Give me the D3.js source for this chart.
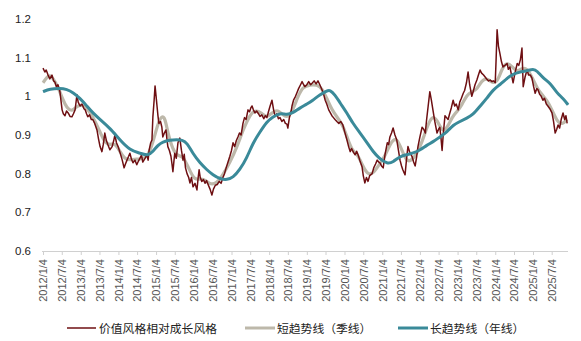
<!DOCTYPE html>
<html><head><meta charset="utf-8">
<script src="https://cdn.jsdelivr.net/npm/d3@7/dist/d3.min.js"></script>
<style>
html,body{margin:0;padding:0;background:#fff;}
svg{display:block;font-family:"Liberation Sans",Arial,sans-serif;}
</style></head>
<body><svg id="c" width="581" height="341"></svg>
<script>
// ---- DATA ----
const tickLabels = ["2012/1/4","2012/7/4","2013/1/4","2013/7/4","2014/1/4","2014/7/4","2015/1/4","2015/7/4","2016/1/4","2016/7/4","2017/1/4","2017/7/4","2018/1/4","2018/7/4","2019/1/4","2019/7/4","2020/1/4","2020/7/4","2021/1/4","2021/7/4","2022/1/4","2022/7/4","2023/1/4","2023/7/4","2024/1/4","2024/7/4","2025/1/4","2025/7/4"];
const yTicks = [0.6,0.7,0.8,0.9,1,1.1,1.2];
const seriesNames = ["价值风格相对成长风格","短趋势线（季线）","长趋势线（年线）"];

const ratioDates = ["2012-01-04","2012-01-22","2012-02-04","2012-02-22","2012-03-10","2012-03-31","2012-04-16","2012-04-28","2012-05-13","2012-05-28","2012-06-16","2012-06-28","2012-07-07","2012-07-19","2012-08-04","2012-08-19","2012-09-04","2012-09-22","2012-10-10","2012-10-25","2012-11-10","2012-11-28","2012-12-10","2012-12-28","2013-01-16","2013-02-04","2013-02-16","2013-03-01","2013-03-13","2013-03-31","2013-04-16","2013-05-01","2013-05-19","2013-06-10","2013-06-25","2013-07-10","2013-07-28","2013-08-10","2013-08-25","2013-09-10","2013-09-25","2013-10-13","2013-11-04","2013-11-19","2013-12-01","2013-12-16","2014-01-01","2014-01-19","2014-02-10","2014-02-28","2014-03-13","2014-03-28","2014-04-13","2014-04-25","2014-05-10","2014-05-25","2014-06-13","2014-07-01","2014-07-16","2014-08-01","2014-08-16","2014-08-28","2014-09-16","2014-10-07","2014-10-19","2014-10-28","2014-11-13","2014-11-25","2014-12-04","2014-12-16","2014-12-25","2015-01-04","2015-01-13","2015-01-22","2015-01-31","2015-02-16","2015-03-01","2015-03-10","2015-03-25","2015-04-10","2015-04-19","2015-04-28","2015-05-13","2015-05-28","2015-06-07","2015-06-16","2015-06-25","2015-07-04","2015-07-19","2015-08-04","2015-08-22","2015-09-07","2015-09-22","2015-10-04","2015-10-16","2015-10-31","2015-11-16","2015-11-28","2015-12-13","2015-12-28","2016-01-16","2016-02-04","2016-02-16","2016-02-25","2016-03-07","2016-03-22","2016-04-07","2016-04-22","2016-05-07","2016-05-22","2016-06-10","2016-06-28","2016-07-13","2016-07-31","2016-08-19","2016-09-07","2016-09-25","2016-10-13","2016-10-28","2016-11-13","2016-12-01","2016-12-19","2017-01-04","2017-01-19","2017-02-04","2017-02-19","2017-03-07","2017-03-22","2017-04-07","2017-04-25","2017-05-10","2017-05-25","2017-06-13","2017-06-28","2017-07-10","2017-07-22","2017-08-04","2017-08-19","2017-09-04","2017-09-22","2017-10-07","2017-10-25","2017-11-13","2017-11-28","2017-12-13","2017-12-28","2018-01-13","2018-01-31","2018-02-16","2018-03-01","2018-03-19","2018-04-04","2018-04-19","2018-05-07","2018-05-25","2018-06-10","2018-06-25","2018-07-04","2018-07-19","2018-08-04","2018-08-13","2018-08-28","2018-09-16","2018-10-01","2018-10-16","2018-11-04","2018-11-19","2018-12-04","2018-12-16","2019-01-04","2019-01-22","2019-02-10","2019-02-28","2019-03-16","2019-04-04","2019-04-22","2019-05-10","2019-05-31","2019-06-16","2019-07-01","2019-07-16","2019-08-04","2019-08-19","2019-09-04","2019-09-19","2019-10-04","2019-10-22","2019-11-10","2019-11-28","2019-12-19","2020-01-04","2020-01-28","2020-02-13","2020-02-28","2020-03-13","2020-03-31","2020-04-16","2020-05-01","2020-05-13","2020-05-31","2020-06-22","2020-07-04","2020-07-19","2020-08-04","2020-08-19","2020-09-04","2020-09-28","2020-10-13","2020-10-31","2020-11-16","2020-12-01","2020-12-13","2020-12-28","2021-01-13","2021-01-31","2021-02-22","2021-03-07","2021-03-19","2021-04-04","2021-04-19","2021-05-07","2021-05-25","2021-06-10","2021-06-25","2021-07-10","2021-07-22","2021-08-13","2021-08-28","2021-09-10","2021-09-28","2021-10-19","2021-11-04","2021-11-19","2021-12-04","2021-12-16","2022-01-04","2022-01-25","2022-02-10","2022-02-25","2022-03-10","2022-03-25","2022-04-10","2022-04-25","2022-05-10","2022-05-28","2022-06-19","2022-07-04","2022-07-16","2022-07-28","2022-08-07","2022-08-19","2022-09-04","2022-09-19","2022-10-04","2022-10-19","2022-11-04","2022-11-22","2022-12-07","2022-12-22","2023-01-10","2023-01-25","2023-02-10","2023-02-28","2023-03-13","2023-03-31","2023-04-16","2023-05-01","2023-05-22","2023-06-07","2023-06-22","2023-07-10","2023-07-25","2023-08-10","2023-08-25","2023-09-13","2023-09-28","2023-10-13","2023-10-31","2023-11-16","2023-12-04","2023-12-19","2024-01-04","2024-01-13","2024-01-22","2024-02-04","2024-02-19","2024-03-04","2024-03-19","2024-04-07","2024-04-28","2024-05-10","2024-05-25","2024-06-10","2024-06-25","2024-07-13","2024-08-04","2024-08-19","2024-09-04","2024-09-19","2024-10-01","2024-10-19","2024-11-07","2024-11-22","2024-12-10","2024-12-25","2025-01-10","2025-01-25","2025-02-10","2025-02-22","2025-03-10","2025-03-25","2025-04-10","2025-04-25","2025-05-13","2025-05-28","2025-06-16","2025-07-07","2025-07-22","2025-08-07","2025-08-22","2025-09-04","2025-09-19","2025-10-04","2025-10-22","2025-11-07","2025-11-19","2025-12-01"];
const ratioValues = [1.073,1.063,1.068,1.055,1.045,1.055,1.040,1.037,1.025,1.030,1.012,0.985,0.965,0.955,0.950,0.962,0.957,0.948,0.947,0.955,0.965,1.004,0.985,0.975,0.980,0.968,0.965,0.955,0.947,0.952,0.940,0.940,0.930,0.913,0.890,0.870,0.857,0.875,0.905,0.885,0.874,0.862,0.870,0.885,0.900,0.880,0.870,0.855,0.835,0.815,0.825,0.835,0.845,0.853,0.838,0.828,0.835,0.823,0.832,0.840,0.848,0.830,0.838,0.849,0.835,0.860,0.880,0.887,0.947,0.990,1.027,1.000,0.975,0.950,0.930,0.935,0.920,0.895,0.905,0.913,0.890,0.870,0.860,0.845,0.825,0.805,0.830,0.853,0.840,0.880,0.892,0.860,0.835,0.850,0.815,0.800,0.790,0.776,0.790,0.766,0.775,0.758,0.790,0.810,0.790,0.780,0.785,0.775,0.782,0.772,0.760,0.745,0.760,0.770,0.772,0.780,0.775,0.790,0.800,0.815,0.830,0.845,0.860,0.880,0.870,0.885,0.895,0.905,0.900,0.930,0.945,0.940,0.965,0.960,0.970,0.975,0.965,0.957,0.962,0.955,0.948,0.952,0.942,0.950,0.945,0.960,0.975,0.990,0.965,0.950,0.955,0.942,0.945,0.935,0.940,0.930,0.928,0.918,0.945,0.960,0.975,0.990,1.000,1.010,1.020,1.030,1.038,1.030,1.025,1.030,1.038,1.030,1.035,1.040,1.032,1.040,1.030,1.017,1.005,0.990,0.980,0.965,0.958,0.950,0.945,0.940,0.935,0.930,0.935,0.926,0.910,0.887,0.870,0.857,0.865,0.855,0.849,0.858,0.850,0.835,0.818,0.795,0.776,0.790,0.780,0.795,0.800,0.815,0.825,0.835,0.830,0.828,0.820,0.815,0.850,0.880,0.875,0.895,0.905,0.918,0.900,0.887,0.860,0.835,0.820,0.810,0.797,0.840,0.870,0.855,0.845,0.830,0.820,0.845,0.870,0.895,0.920,0.915,0.905,0.940,0.975,1.012,0.990,0.965,0.935,0.905,0.915,0.920,0.890,0.860,0.905,0.950,0.945,0.940,0.955,0.970,0.990,0.975,0.980,0.965,0.985,0.995,1.008,1.015,1.035,1.063,1.030,1.000,1.015,1.030,1.042,1.055,1.068,1.060,1.055,1.050,1.045,1.040,1.042,1.038,1.040,1.035,1.100,1.172,1.130,1.110,1.090,1.076,1.080,1.085,1.070,1.076,1.055,1.035,1.060,1.085,1.080,1.095,1.125,1.025,1.050,1.068,1.055,1.055,1.047,1.025,1.008,1.020,1.017,1.005,1.000,0.990,0.995,0.980,0.975,0.968,0.957,0.935,0.905,0.915,0.926,0.918,0.940,0.957,0.940,0.950,0.930];

const shortDates = ["2012-01-04","2012-02-13","2012-03-10","2012-04-10","2012-05-28","2012-07-16","2012-08-22","2012-10-10","2012-11-28","2013-01-16","2013-03-04","2013-05-01","2013-07-10","2013-08-25","2013-10-13","2013-12-01","2014-01-19","2014-03-07","2014-04-25","2014-07-01","2014-08-28","2014-10-16","2014-12-04","2015-01-22","2015-03-01","2015-04-01","2015-04-28","2015-06-16","2015-08-04","2015-09-22","2015-11-10","2015-12-28","2016-02-04","2016-04-04","2016-06-10","2016-08-16","2016-10-13","2016-12-22","2017-02-28","2017-04-25","2017-07-01","2017-08-19","2017-10-25","2017-12-13","2018-02-10","2018-03-28","2018-05-16","2018-07-04","2018-08-22","2018-10-10","2018-11-28","2019-02-04","2019-04-13","2019-05-31","2019-07-16","2019-09-04","2019-10-22","2019-12-19","2020-02-07","2020-03-25","2020-05-13","2020-07-01","2020-08-19","2020-10-07","2020-12-04","2021-01-31","2021-04-07","2021-05-25","2021-07-13","2021-08-31","2021-10-19","2021-12-07","2022-01-25","2022-03-13","2022-05-01","2022-06-19","2022-08-07","2022-09-25","2022-11-13","2022-12-28","2023-02-16","2023-04-04","2023-05-22","2023-07-10","2023-08-28","2023-10-16","2023-12-04","2024-01-22","2024-03-10","2024-04-28","2024-06-16","2024-08-04","2024-09-19","2024-11-07","2024-12-25","2025-02-13","2025-04-01","2025-05-19","2025-07-07","2025-08-25","2025-10-13","2025-12-01"];
const shortValues = [1.035,1.050,1.055,1.047,1.025,0.990,0.970,0.960,0.975,0.978,0.970,0.947,0.908,0.880,0.874,0.880,0.857,0.838,0.835,0.838,0.838,0.845,0.880,0.930,0.950,0.944,0.905,0.861,0.845,0.845,0.818,0.790,0.784,0.789,0.771,0.776,0.797,0.830,0.870,0.913,0.952,0.965,0.957,0.944,0.960,0.965,0.952,0.944,0.965,1.000,1.025,1.030,1.030,1.021,0.995,0.965,0.947,0.926,0.887,0.857,0.849,0.818,0.797,0.800,0.823,0.845,0.887,0.892,0.861,0.830,0.835,0.853,0.882,0.920,0.950,0.940,0.908,0.918,0.947,0.960,0.978,1.004,1.012,1.017,1.042,1.047,1.035,1.035,1.073,1.089,1.076,1.063,1.073,1.073,1.050,1.021,1.004,0.990,0.965,0.935,0.926,0.940];

const longDates = ["2012-01-04","2012-03-10","2012-06-16","2012-08-22","2012-10-22","2012-12-28","2013-03-04","2013-05-01","2013-07-10","2013-10-13","2014-01-19","2014-04-25","2014-08-01","2014-10-16","2014-12-04","2015-01-22","2015-03-10","2015-05-16","2015-07-25","2015-09-13","2015-10-31","2015-12-28","2016-03-04","2016-05-10","2016-07-07","2016-09-16","2016-11-22","2017-01-19","2017-03-25","2017-05-31","2017-08-01","2017-10-07","2017-12-13","2018-02-10","2018-04-19","2018-06-25","2018-08-22","2018-10-28","2019-01-07","2019-03-04","2019-05-10","2019-07-16","2019-08-16","2019-10-04","2019-11-22","2020-01-28","2020-03-25","2020-06-04","2020-08-10","2020-10-07","2020-12-04","2021-02-22","2021-04-19","2021-06-25","2021-08-31","2021-10-28","2022-01-07","2022-03-13","2022-05-10","2022-07-16","2022-09-25","2022-11-22","2023-01-28","2023-04-04","2023-06-01","2023-08-10","2023-10-16","2023-12-13","2024-02-19","2024-04-28","2024-06-25","2024-09-01","2024-11-07","2025-01-07","2025-02-13","2025-04-10","2025-06-19","2025-08-25","2025-10-22","2025-12-10"];
const longValues = [1.012,1.019,1.021,1.018,1.010,0.995,0.975,0.957,0.940,0.918,0.887,0.861,0.853,0.846,0.857,0.874,0.882,0.887,0.888,0.887,0.880,0.851,0.828,0.810,0.797,0.786,0.784,0.790,0.810,0.840,0.880,0.908,0.935,0.947,0.957,0.952,0.957,0.970,0.980,0.990,1.004,1.014,1.017,1.004,0.983,0.957,0.930,0.905,0.880,0.857,0.840,0.825,0.830,0.845,0.849,0.853,0.861,0.874,0.882,0.895,0.908,0.926,0.935,0.944,0.952,0.975,0.995,1.017,1.030,1.047,1.058,1.063,1.066,1.071,1.066,1.047,1.035,1.008,0.995,0.978];

// ---- CHART ----
const parse = d3.timeParse("%Y-%m-%d");
const tickDates = tickLabels.map(s => { const p = s.split("/"); return new Date(+p[0], +p[1]-1, +p[2]); });
const svg = d3.select("#c");
const x0 = 43, step = 18.84;
const x = d3.scaleTime()
  .domain([tickDates[0], tickDates[tickDates.length-1]])
  .range([x0, x0 + step*(tickDates.length-1)]);
const y = d3.scaleLinear().domain([0.6, 1.2]).range([251, 19]);

const colors = ["#6e0f12", "#bdb8aa", "#3a8a99"];

// y tick labels
svg.append("g").selectAll("text").data(yTicks).join("text")
  .attr("x", 31).attr("y", d => y(d) + 4)
  .attr("text-anchor", "end").attr("font-size", 11.5).attr("fill", "#222")
  .text(d => d === 1 ? "1" : d3.format(".1f")(d));

// x axis
const xAxis = d3.axisBottom(x).tickValues(tickDates).tickSize(4).tickFormat((d,i) => tickLabels[i]);
const gx = svg.append("g").attr("transform", "translate(0,251)").call(xAxis);
gx.select(".domain").attr("stroke", "#d0d0d0").attr("d", "M42,0.5H568");
gx.selectAll(".tick line").attr("stroke", "#d0d0d0");
gx.selectAll(".tick text")
  .attr("font-family", "'Liberation Sans',Arial,sans-serif")
  .attr("font-size", 11).attr("fill", "#555")
  .attr("text-anchor", "end")
  .attr("transform", "rotate(-90)")
  .attr("x", -8).attr("y", 0).attr("dy", "0.35em");

function series(dates, vals){ return dates.map((d,i) => ({d: parse(d), v: vals[i]})); }
const lineLin = d3.line().x(p => x(p.d)).y(p => y(p.v));
const lineSm = d3.line().x(p => x(p.d)).y(p => y(p.v)).curve(d3.curveBasis);

svg.append("path").datum(series(shortDates, shortValues)).attr("d", lineSm)
  .attr("fill", "none").attr("stroke", colors[1]).attr("stroke-width", 3.2).attr("stroke-linejoin","round");
svg.append("path").datum(series(ratioDates, ratioValues)).attr("d", lineLin)
  .attr("fill", "none").attr("stroke", colors[0]).attr("stroke-width", 1.5).attr("stroke-linejoin","round");
svg.append("path").datum(series(longDates, longValues)).attr("d", lineSm)
  .attr("fill", "none").attr("stroke", colors[2]).attr("stroke-width", 3).attr("stroke-linejoin","round");

// legend
const leg = [
  {x1: 67, x2: 96, tx: 99, w: 1.5},
  {x1: 245, x2: 275, tx: 277, w: 3},
  {x1: 398, x2: 428, tx: 430, w: 3}
];
leg.forEach((l,i) => {
  svg.append("line").attr("x1", l.x1).attr("x2", l.x2).attr("y1", 328).attr("y2", 328)
    .attr("stroke", colors[i]).attr("stroke-width", l.w);
  svg.append("text").attr("x", l.tx).attr("y", 332.5)
    .attr("font-family", "'Noto Sans CJK SC',sans-serif").attr("font-size", 11.8).attr("fill", "#222")
    .text(seriesNames[i]);
});
</script></body></html>
